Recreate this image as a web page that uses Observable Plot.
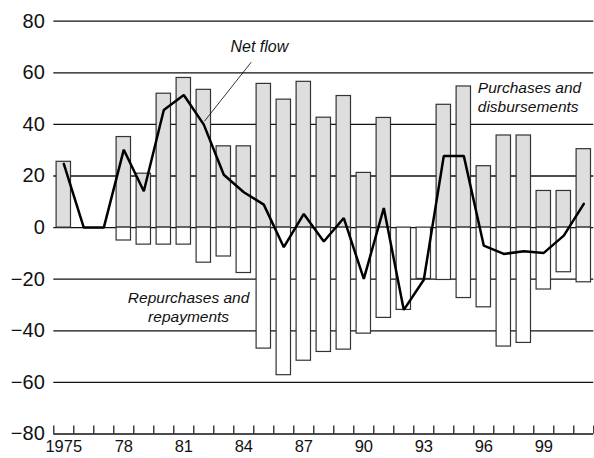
<!DOCTYPE html>
<html><head><meta charset="utf-8">
<script src="https://cdn.jsdelivr.net/npm/d3@7"></script>
<script src="https://cdn.jsdelivr.net/npm/@observablehq/plot@0.6"></script>
<style>body{margin:0;background:#fff}</style>
</head><body><div id="chart"></div>
<script>
const years = [1975,1976,1977,1978,1979,1980,1981,1982,1983,1984,1985,1986,1987,1988,1989,1990,1991,1992,1993,1994,1995,1996,1997,1998,1999,2000,2001];
const purchases = [25.5,0,0,35.1,20.9,51.9,58,53.4,31.5,31.5,55.7,49.6,56.5,42.6,51,21.2,42.5,0,0,47.6,54.7,23.8,35.7,35.7,14.2,14.2,30.4];
const repurchases = [0,0,0,-5,-6.6,-6.6,-6.6,-13.6,-11.2,-17.6,-46.9,-57.2,-51.6,-48.2,-47.3,-41.1,-35,-31.9,-19.9,-20.3,-27.3,-30.9,-46.1,-44.7,-24,-17.3,-21.2];
const netFlow = [24.7,0,0,30.2,14.1,45.6,51.4,39.9,20.5,13.7,8.9,-7.6,5.3,-5.4,3.7,-19.9,7.6,-31.9,-20.2,27.8,27.8,-7,-10.2,-9.2,-9.8,-3.1,9.2];
const yTicks = [-80,-60,-40,-20,0,20,40,60,80];
const xLabelYears = [1975,1978,1981,1984,1987,1990,1993,1996,1999];

const pos = years.map((year,i)=>({year, value: purchases[i]})).filter(d=>d.value!==0);
const neg = years.map((year,i)=>({year, value: repurchases[i]})).filter(d=>d.value!==0);
const net = years.map((year,i)=>({year, value: netFlow[i]}));
const bounds = years.map(y=>y-0.5).concat([years[years.length-1]+0.5]);
const halfBar = 0.36;

const chart = Plot.plot({
  width: 594, height: 458,
  marginLeft: 53.3, marginRight: 0.7, marginTop: 20.7, marginBottom: 24.5,
  style: {fontFamily: "'Liberation Sans', Arial, sans-serif", background: "#fff", color: "#111"},
  x: {type: "linear", domain: [1974.5, 2001.5], axis: null},
  y: {domain: [-80, 80], axis: null},
  marks: [
    Plot.ruleY(yTicks, {stroke: "#111", strokeWidth: 1.3}),
    Plot.rectY(pos, {x1: d=>d.year-halfBar, x2: d=>d.year+halfBar, y1: 0, y2: "value", fill: "#dedede", stroke: "#333", strokeWidth: 1.2}),
    Plot.rectY(neg, {x1: d=>d.year-halfBar, x2: d=>d.year+halfBar, y1: 0, y2: "value", fill: "#fff", stroke: "#333", strokeWidth: 1.2}),
    Plot.ruleX(bounds, {y1: -80, y2: -76.9, stroke: "#111", strokeWidth: 1.2}),
    Plot.axisY(yTicks, {tickSize: 0, tickPadding: 9, fontSize: 20, fill: "#111",
      tickFormat: d => d < 0 ? "\u2212" + Math.abs(d) : String(d)}),
    Plot.axisX(xLabelYears, {tickSize: 0, tickPadding: 6, fontSize: 16.5, fill: "#111",
      tickFormat: d => d === 1975 ? "1975" : String(d % 100).padStart(2, "0")}),
    Plot.line(net, {x: "year", y: "value", stroke: "#000", strokeWidth: 2.5, strokeLinejoin: "miter"}),
    Plot.link([{x1: 1984.37, y1: 64.1, x2: 1982.03, y2: 41.2}], {x1: "x1", y1: "y1", x2: "x2", y2: "y2", stroke: "#000", strokeWidth: 0.8}),
    Plot.text(["Net flow"], {x: 1984.78, y: 70, fontSize: 16, fontStyle: "italic", fill: "#111"}),
    Plot.text(["Purchases and\ndisbursements"], {x: 1995.7, y: 50.8, textAnchor: "start", fontSize: 15.5, fontStyle: "italic", lineHeight: 1.25, fill: "#111"}),
    Plot.text(["Repurchases and\nrepayments"], {x: 1981.24, y: -30.6, fontSize: 15.5, fontStyle: "italic", lineHeight: 1.25, fill: "#111"})
  ]
});
document.getElementById("chart").append(chart);
</script>
</body></html>
